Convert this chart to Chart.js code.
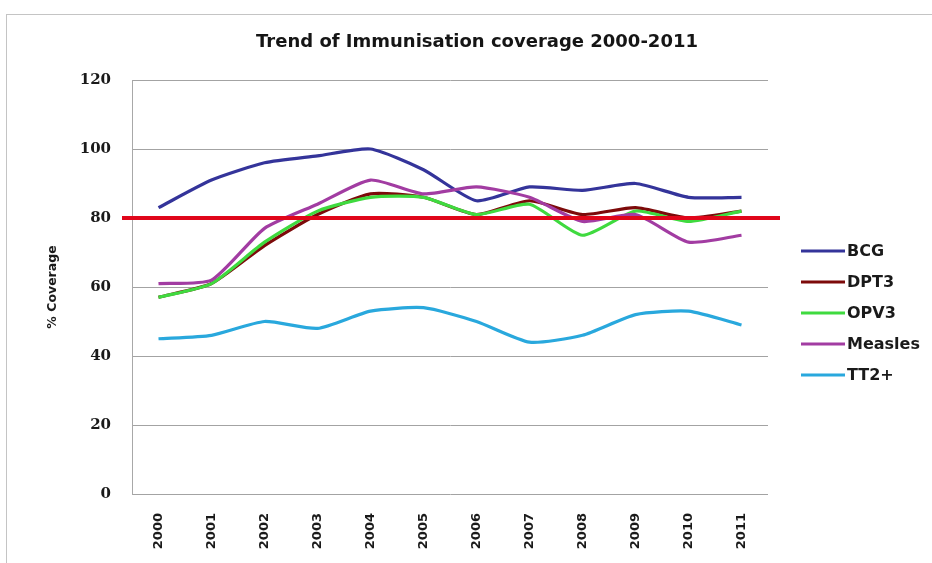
<!DOCTYPE html>
<html>
<head>
<meta charset="utf-8">
<title>Trend of Immunisation coverage 2000-2011</title>
<script src="https://cdn.jsdelivr.net/npm/chart.js@4/dist/chart.umd.min.js"></script>
<style>
  html, body { margin: 0; padding: 0; background: #ffffff; }
  #wrap { position: relative; width: 932px; height: 563px; overflow: hidden; }
  #frame { position: absolute; left: 6px; top: 14px; right: -4px; bottom: -4px; border: 1px solid #c4c4c4; }
  #chart { position: absolute; left: 0; top: 0; }
</style>
</head>
<body>
<div id="wrap">
  <div id="frame"></div>
  <canvas id="chart" width="932" height="563"></canvas>
</div>
<script>
// Immunisation coverage (%) by year
const years   = ['2000', '2001', '2002', '2003', '2004', '2005', '2006', '2007', '2008', '2009', '2010', '2011'];
const bcg     = [83, 91, 96, 98, 100, 94, 85, 89, 88, 90, 86, 86];
const dpt3    = [57, 61, 72, 81, 87, 86, 81, 85, 81, 83, 80, 82];
const opv3    = [57, 61, 73, 82, 86, 86, 81, 84, 75, 82, 79, 82];
const measles = [61, 62, 77, 84, 91, 87, 89, 86, 79, 81, 73, 75];
const tt2     = [45, 46, 50, 48, 53, 54, 50, 44, 46, 52, 53, 49];
const seriesNames = ['BCG', 'DPT3', 'OPV3', 'Measles', 'TT2+'];
const target = 80;
const yTicks = [0, 20, 40, 60, 80, 100, 120];
const chartTitle = 'Trend of Immunisation coverage 2000-2011';

const seriesColors = ['#34349a', '#7d0a0a', '#3fda3f', '#a23ca2', '#29a8dd'];
const seriesValues = [bcg, dpt3, opv3, measles, tt2];

const datasets = seriesValues.map((vals, i) => ({
  label: seriesNames[i],
  data: vals,
  borderColor: seriesColors[i],
  backgroundColor: seriesColors[i],
  borderWidth: 3.2,
  pointRadius: 0,
  pointHoverRadius: 0,
  tension: 0.2,
  fill: false,
  // later series sit on top of earlier ones
  order: seriesValues.length - i
}));

// horizontal 80% target line, a little wider than the plot area
const targetLine = {
  id: 'targetLine',
  afterDatasetsDraw(chart) {
    const { ctx, chartArea, scales } = chart;
    const y = scales.y.getPixelForValue(target);
    ctx.save();
    ctx.strokeStyle = '#e0061a';
    ctx.lineWidth = 4;
    ctx.beginPath();
    ctx.moveTo(chartArea.left - 10, y);
    ctx.lineTo(chartArea.right + 12, y);
    ctx.stroke();
    ctx.restore();
  }
};

// title centred over the plot plus legend block
const topTitle = {
  id: 'topTitle',
  afterDraw(chart) {
    const { ctx, chartArea } = chart;
    ctx.save();
    ctx.font = 'bold 18px "DejaVu Sans"';
    ctx.fillStyle = '#151515';
    ctx.textAlign = 'center';
    ctx.textBaseline = 'middle';
    ctx.fillText(chartTitle, (chartArea.left + chartArea.right) / 2 + 27, chartArea.top - 38);
    ctx.restore();
  }
};

// legend to the right of the plot: short line then the series name
const sideLegend = {
  id: 'sideLegend',
  afterDraw(chart) {
    const { ctx, chartArea } = chart;
    const x0 = chartArea.right + 33;
    const lineLen = 44;
    const y0 = chartArea.top + 171;
    const gap = 31;
    ctx.save();
    ctx.font = 'bold 16px "DejaVu Sans"';
    ctx.textAlign = 'left';
    ctx.textBaseline = 'middle';
    chart.data.datasets.forEach((ds, i) => {
      const y = y0 + i * gap;
      ctx.strokeStyle = ds.borderColor;
      ctx.lineWidth = 3;
      ctx.beginPath();
      ctx.moveTo(x0, y);
      ctx.lineTo(x0 + lineLen, y);
      ctx.stroke();
      ctx.fillStyle = '#1a1a1a';
      ctx.fillText(ds.label, x0 + lineLen + 2, y + 1);
    });
    ctx.restore();
  }
};

new Chart(document.getElementById('chart'), {
  type: 'line',
  data: { labels: years, datasets },
  plugins: [targetLine, topTitle, sideLegend],
  options: {
    responsive: false,
    animation: false,
    events: [],
    layout: { padding: { left: 0, top: 80, right: 164, bottom: 0 } },
    plugins: {
      legend: { display: false },
      tooltip: { enabled: false },
      title: { display: false }
    },
    scales: {
      x: {
        type: 'category',
        offset: true,
        grid: { display: false, drawTicks: false },
        border: { display: false },
        ticks: {
          autoSkip: false,
          minRotation: 90,
          maxRotation: 90,
          padding: 19,
          color: '#1a1a1a',
          font: { family: '"DejaVu Sans"', size: 13, weight: 'bold' }
        },
        afterFit(scale) { scale.height = 69; }
      },
      y: {
        min: 0,
        max: 120,
        afterBuildTicks(scale) { scale.ticks = yTicks.map(v => ({ value: v })); },
        grid: { color: '#a3a3a3', lineWidth: 1, drawTicks: false },
        border: { display: true, color: '#a8a8a8', width: 1 },
        ticks: {
          padding: 21,
          color: '#1a1a1a',
          font: { family: '"DejaVu Serif"', size: 15, weight: 'bold' }
        },
        title: {
          display: true,
          text: '% Coverage',
          color: '#1a1a1a',
          font: { family: '"DejaVu Sans"', size: 12.5, weight: 'bold', lineHeight: 1.2 },
          padding: { top: 45, bottom: 0 }
        },
        afterFit(scale) { scale.width = 132; }
      }
    }
  }
});
</script>
</body>
</html>
